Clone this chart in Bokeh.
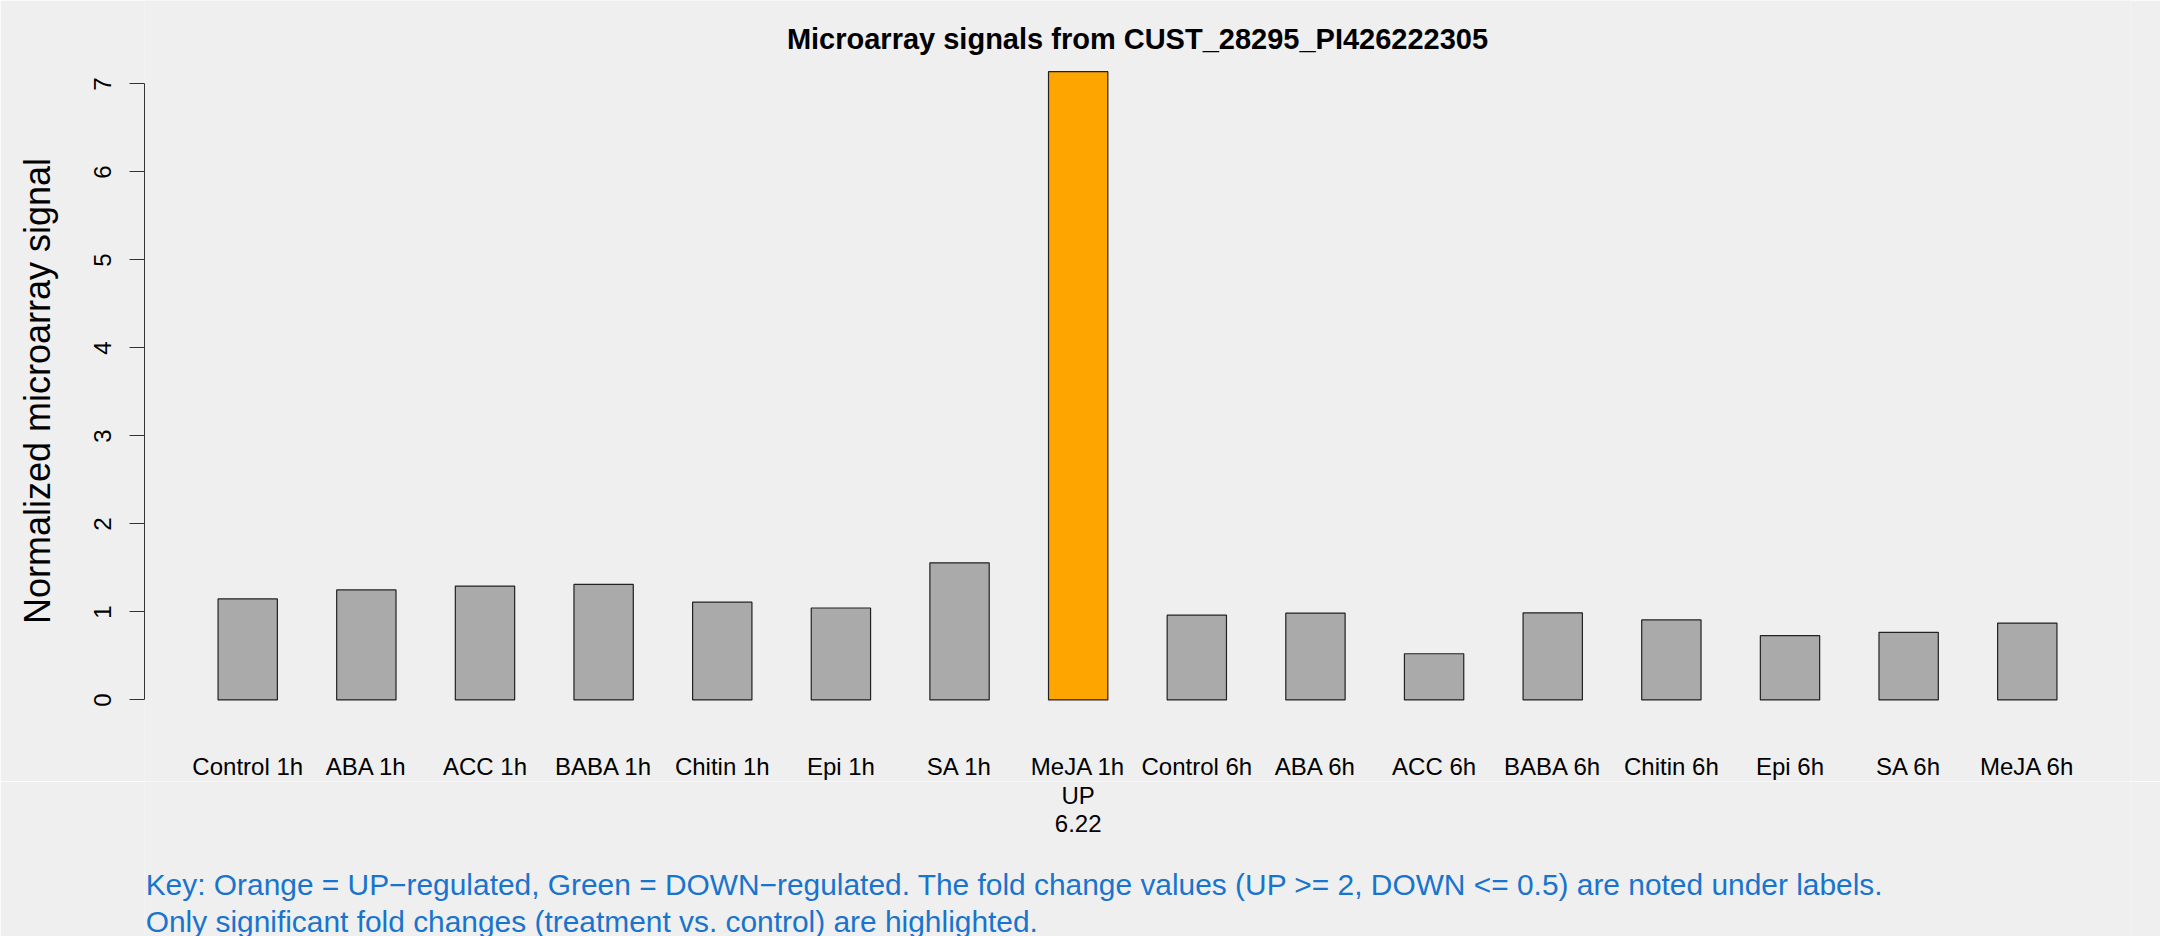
from bokeh.plotting import figure
from bokeh.models import ColumnDataSource, Range1d, FixedTicker, LinearAxis
from bokeh.layouts import column
from bokeh.embed import file_html
from bokeh.resources import INLINE
from bokeh.core.properties import value

# ---- data ----
categories = ["Control 1h", "ABA 1h", "ACC 1h", "BABA 1h", "Chitin 1h", "Epi 1h", "SA 1h", "MeJA 1h",
              "Control 6h", "ABA 6h", "ACC 6h", "BABA 6h", "Chitin 6h", "Epi 6h", "SA 6h", "MeJA 6h"]
signals = [1.148, 1.251, 1.294, 1.313, 1.111, 1.045, 1.558, 7.140,
           0.964, 0.987, 0.525, 0.990, 0.909, 0.731, 0.769, 0.874]
regulation = ["", "", "", "", "", "", "", "UP", "", "", "", "", "", "", "", ""]
fold_change = ["", "", "", "", "", "", "", "6.22", "", "", "", "", "", "", "", ""]
y_ticks = [0, 1, 2, 3, 4, 5, 6, 7]

title_text = "Microarray signals from CUST_28295_PI426222305"
ylabel_text = "Normalized microarray signal"
key_lines = ["Key: Orange = UP\u2212regulated, Green = DOWN\u2212regulated. The fold change values (UP >= 2, DOWN <= 0.5) are noted under labels.",
             "Only significant fold changes (treatment vs. control) are highlighted."]

# ---- layout constants (pixels) ----
W, H = 2160, 936
H_TOP = 781           # upper panel height
H_BOT = H - H_TOP
LEFT = 144            # plot region left edge
PLOT_W = 1986         # R plot region width
PLOT_TOP, PLOT_BOT = 46.0, 724.6   # R plot region top/bottom
TXT_SHIFT = 9.0       # baseline correction

FONT = "Liberation Sans"
BG = "#EFEFEF"

# ---- derived ----
n = len(categories)
centers = [2 * (i + 1) - 0.5 for i in range(n)]   # R barplot with space = 1
colors = ["#FFA500" if r == "UP" else ("#00A000" if r == "DOWN" else "#AAAAAA") for r in regulation]
src = ColumnDataSource(dict(x=centers, top=signals, color=colors))

xmin, xmax = 1.0, 2.0 * n
xpad = 0.04 * (xmax - xmin)
ymax = max(signals)
ypad = 0.04 * ymax
dpp = (ymax + 2 * ypad) / (PLOT_BOT - PLOT_TOP)   # data units per pixel
y_top = ymax + ypad + PLOT_TOP * dpp
y_bot = y_top - H_TOP * dpp

xr = Range1d(xmin - xpad, xmax + xpad)


def ypx(px):
    """data y of the upper panel for a pixel row of the canvas"""
    return y_top - px * dpp


def style(fig):
    fig.background_fill_color = BG
    fig.border_fill_color = BG
    fig.outline_line_color = None
    fig.grid.visible = False


# ---- upper panel: bars, y axis, title, category names ----
p = figure(width=W, height=H_TOP, output_backend="svg", toolbar_location=None,
           x_range=xr, y_range=Range1d(y_bot, y_top),
           frame_width=PLOT_W, frame_height=H_TOP,
           min_border_left=LEFT, min_border_right=W - LEFT - PLOT_W, min_border_top=0, min_border_bottom=0,
           x_axis_location=None, y_axis_location=None)
style(p)

p.vbar(x="x", top="top", bottom=0, width=1.0, source=src, fill_color="color",
       line_color="#222222", line_width=1.2)

yax = LinearAxis(ticker=FixedTicker(ticks=y_ticks), bounds=(0, 7))
yax.axis_label = ylabel_text
yax.axis_label_text_font = FONT
yax.axis_label_text_font_size = "36px"
yax.axis_label_text_font_style = "normal"
yax.axis_label_text_color = "black"
yax.axis_label_standoff = 34
yax.major_label_text_font = FONT
yax.major_label_text_font_size = "24px"
yax.major_label_text_color = "black"
yax.major_label_orientation = "vertical"
yax.major_label_standoff = 18
yax.major_tick_out = 15
yax.major_tick_in = 0
yax.minor_tick_line_color = None
yax.axis_line_color = "#333333"
yax.major_tick_line_color = "#333333"
p.add_layout(yax, "left")

p.text(x=[(xmin + xmax) / 2], y=[ypx(45.7 - 7.0)], text=[title_text], text_align="center",
       text_baseline="alphabetic", text_font=value(FONT), text_font_size="29px",
       text_font_style="bold", text_color="black")

lab = ColumnDataSource(dict(x=centers, name=categories, reg=regulation, fc=fold_change))
p.text(x="x", y=ypx(775.0 - TXT_SHIFT), text="name", source=lab, text_align="center",
       text_baseline="alphabetic", text_font=value(FONT), text_font_size="24px", text_color="black")

# ---- lower panel: fold-change notes, key ----
q = figure(width=W, height=H_BOT, output_backend="svg", toolbar_location=None,
           x_range=xr, y_range=Range1d(H_BOT, 0),
           frame_width=PLOT_W, frame_height=H_BOT,
           min_border_left=LEFT, min_border_right=W - LEFT - PLOT_W, min_border_top=0, min_border_bottom=0,
           x_axis_location=None, y_axis_location=None)
style(q)

for col, px in (("reg", 803.5), ("fc", 831.5)):
    q.text(x="x", y=px - H_TOP - TXT_SHIFT, text=col, source=lab, text_align="center",
           text_baseline="alphabetic", text_font=value(FONT), text_font_size="24px", text_color="black")

key_x = xmin - xpad + 0.02
q.text(x=[key_x, key_x], y=[893.5 - H_TOP - TXT_SHIFT - 1, 930.5 - H_TOP - TXT_SHIFT - 1], text=key_lines,
       text_align="left", text_baseline="alphabetic", text_font=value(FONT), text_font_size="29.9px",
       text_color="#1874CD")

layout = column(p, q, spacing=0)
open("out.html", "w").write(file_html(layout, INLINE))
